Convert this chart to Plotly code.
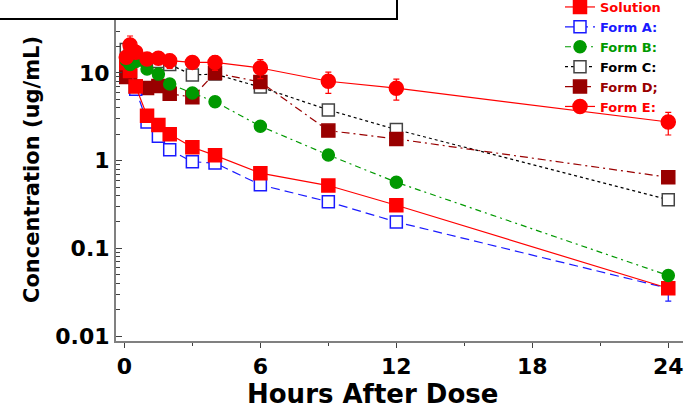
import plotly.graph_objects as go

# ---- data ----
times = [0.083, 0.25, 0.5, 1, 1.5, 2, 3, 4, 6, 9, 12, 24]
solution = [13.0, 10.5, 7.0, 3.26, 2.55, 2.0, 1.42, 1.15, 0.72, 0.52, 0.31, 0.035]
form_a = [13.7, 11.0, 6.5, 2.76, 1.9, 1.33, 0.97, 0.94, 0.53, 0.34, 0.20, 0.035]
form_b = [14.0, 12.5, 13.5, 11.1, 9.7, 7.5, 5.9, 4.7, 2.47, 1.16, 0.567, 0.049]
form_c = [18.5, 17.0, 15.0, 14.0, 13.5, 12.5, 9.5, 9.7, 6.9, 3.79, 2.26, 0.359]
form_d = [9.0, 9.3, 7.0, 6.75, 7.1, 5.8, 5.3, 10.0, 7.9, 2.2, 1.77, 0.646]
form_e = [15.1, 20.9, 17.2, 14.4, 14.7, 13.8, 13.2, 13.2, 11.4, 8.04, 6.7, 2.76]

form_e_err = [0, 5.5, 2.5, 2.0, 2.0, 2.5, 1.5, 2.5, 2.8, 2.2, 1.8, 0.8]
form_a_err_up = [0, 0, 0, 0, 0, 0, 0, 0, 0, 0, 0, 0.003]
form_a_err_dn = [0, 0, 0, 0, 0, 0, 0, 0, 0, 0, 0, 0.010]
form_c_err = [0, 0, 0, 0, 0, 0, 0, 0, 0, 0, 0, 0.02]
form_b_err = [0, 0, 0, 0, 0, 0, 0, 0.3, 0, 0, 0, 0.004]
form_d_err = [0, 0, 0, 0, 0, 0, 0, 0, 0.5, 0, 0, 0]

x_ticks = [0, 6, 12, 18, 24]
x_minor = [3, 9, 15, 21]
y_ticks = [0.01, 0.1, 1, 10]
y_tick_text = ["0.01", "0.1", "1", "10"]

FONT = "DejaVu Sans"

def lab(txt, color):
    return f"<b><span style='color:{color}'>{txt}</span></b>"

fig = go.Figure()

def add(name, y, color, dash, symbol, mfill, rank, err=None, err_dn=None, msize=12, mline=None):
    ekw = None
    if err is not None:
        ekw = dict(type="data", array=err, arrayminus=err_dn if err_dn is not None else err,
                   visible=True, color=color, thickness=1.2, width=3)
    fig.add_trace(go.Scatter(
        x=times, y=y, name=lab(name, color),
        mode="lines+markers",
        line=dict(color=color, width=1.2, dash=dash),
        marker=dict(symbol=symbol, size=msize, color=mfill,
                    line=dict(color=mline or color, width=1.5)),
        error_y=ekw, legendrank=rank,
    ))

add("Form C:", form_c, "#000000", "3px,3px", "square", "white", 4, err=form_c_err, mline="#444444")
add("Form D;", form_d, "#990000", "8px,4px,2px,4px", "square", "#990000", 5, err=form_d_err, msize=13)
add("Form A:", form_a, "#1a1aff", "9px,5px", "square", "white", 2, err=form_a_err_up, err_dn=form_a_err_dn)
add("Solution", solution, "#ff0000", "solid", "square", "#ff0000", 1, msize=13)
add("Form B:", form_b, "#009900", "6px,4px,2px,4px", "circle", "#009900", 3, err=form_b_err)
add("Form E:", form_e, "#ff0000", "solid", "circle", "#ff0000", 6, err=form_e_err, msize=14)

L, R, T, B = 116, 7, 20, 69
W, H = 690, 410
pw = W - L - R
ph = H - T - B

def px(xp):
    return (xp - L) / pw

def py(yp):
    return (H - B - yp) / ph

# header box (cut off at top of the picture)
fig.add_shape(type="rect", xref="paper", yref="paper",
              x0=px(-10), x1=px(397), y0=py(19), y1=py(-20),
              line=dict(color="black", width=2), fillcolor="white", layer="above")

# axis titles as annotations (positioned like the reference)
fig.add_annotation(text="<b>Hours After Dose</b>", xref="paper", yref="paper",
                   x=px(372), y=py(394), showarrow=False, xanchor="center", yanchor="middle",
                   font=dict(size=26, family=FONT, color="black"))
fig.add_annotation(text="<b>Concentration (ug/mL)</b>", xref="paper", yref="paper",
                   x=px(32), y=py(170), showarrow=False, xanchor="center", yanchor="middle",
                   textangle=-90, font=dict(size=21, family=FONT, color="black"))

fig.update_layout(
    width=W, height=H,
    margin=dict(l=L, r=R, t=T, b=B, autoexpand=False),
    paper_bgcolor="white", plot_bgcolor="white",
    font=dict(family=FONT, color="black"),
    showlegend=True,
    legend=dict(x=px(560), y=py(-8), xanchor="left", yanchor="top",
                font=dict(size=13, family=FONT), bgcolor="rgba(0,0,0,0)",
                itemwidth=30, tracegroupgap=0),
    xaxis=dict(range=[-0.37, 24.65], tickvals=x_ticks, ticktext=[f"<b>{v}</b>" for v in x_ticks],
               showgrid=False, zeroline=False, showline=True, linecolor="#808080", linewidth=2,
               ticks="outside", ticklen=5, tickcolor="#404040", tickwidth=1,
               minor=dict(tickvals=x_minor, ticks="outside", ticklen=3, tickcolor="#404040"),
               tickfont=dict(size=22, family=FONT), automargin=False),
    yaxis=dict(type="log", range=[-2.057, 1.604], tickvals=y_ticks,
               ticktext=[f"<b>{t}</b>" for t in y_tick_text],
               showgrid=False, zeroline=False, showline=True, linecolor="#808080", linewidth=2,
               ticks="inside", ticklen=6, tickcolor="#404040", tickwidth=1,
               minor=dict(ticks="inside", ticklen=4, tickcolor="#404040", dtick="D1"),
               tickfont=dict(size=22, family=FONT), automargin=False),
)

fig.write_html("out.html", config={"displayModeBar": False},
               post_script="document.body.style.margin='0';document.body.style.overflow='hidden';")
